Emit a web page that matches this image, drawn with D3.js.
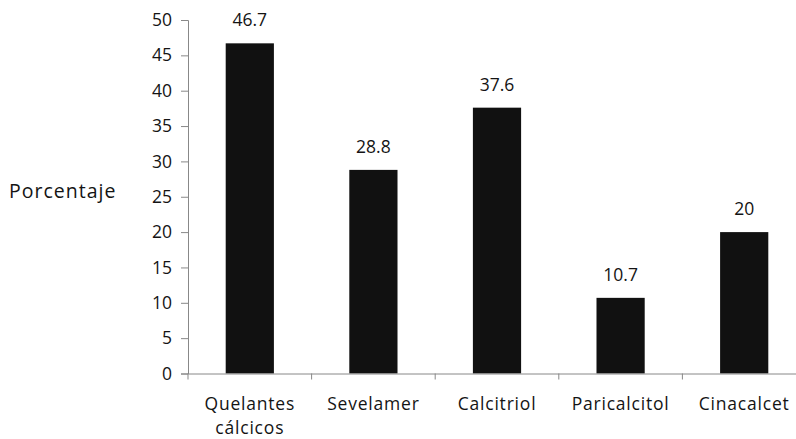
<!DOCTYPE html>
<html><head><meta charset="utf-8">
<script src="https://cdn.jsdelivr.net/npm/d3@7"></script>
<style>body{margin:0;background:#fff}svg{display:block}</style>
</head><body>
<svg id="c" width="796" height="439"></svg>
<script>
const categories = [["Quelantes","cálcicos"],["Sevelamer"],["Calcitriol"],["Paricalcitol"],["Cinacalcet"]];
const values = [46.7, 28.8, 37.6, 10.7, 20];
const valueLabels = ["46.7","28.8","37.6","10.7","20"];
const yTicks = [0,5,10,15,20,25,30,35,40,45,50];
const yTitle = "Porcentaje";

const svg = d3.select("#c");
const font = "'Open Sans', sans-serif";
const x0 = 188, x1 = 806, yTop = 20, yBot = 373.5;
const keys = categories.map((d,i)=>i);
const x = d3.scaleBand().domain(keys).range([x0,x1]).padding(0);
const y = d3.scaleLinear().domain([0,50]).range([yBot,yTop]);
const axisColor = "#888";
const textColor = "#141414";

// y axis
const ya = svg.append("g").attr("transform",`translate(${x0},0)`)
  .call(d3.axisLeft(y).tickValues(yTicks).tickSize(7).tickPadding(9));
ya.select(".domain").attr("stroke",axisColor);
ya.selectAll(".tick line").attr("stroke",axisColor);
ya.selectAll(".tick text").attr("font-family",font).attr("font-size",17.5).attr("fill",textColor);

// bars
const bw = x.bandwidth()*0.39;
svg.selectAll("rect.bar").data(values).enter().append("rect")
  .attr("class","bar")
  .attr("x",(d,i)=>x(i)+x.bandwidth()/2-bw/2)
  .attr("width",bw)
  .attr("y",d=>y(d))
  .attr("height",d=>y(0)-y(d))
  .attr("fill","#111");

// x axis
const xa = svg.append("g").attr("transform",`translate(0,${yBot})`)
  .call(d3.axisBottom(x).tickSize(0).tickFormat(""));
xa.select(".domain").attr("stroke",axisColor);
xa.selectAll(".tick").remove();
const bounds = keys.map(i=>x(i)).concat([x1]);
svg.selectAll("line.bt").data(bounds).enter().append("line")
  .attr("x1",d=>d).attr("x2",d=>d).attr("y1",yBot).attr("y2",yBot+6)
  .attr("stroke",axisColor);

// category labels (one text per line)
const lines = [];
categories.forEach((c,i)=>c.forEach((s,j)=>lines.push({i,j,s})));
svg.selectAll("text.cat").data(lines).enter().append("text")
  .attr("class","cat")
  .attr("x",d=>x(d.i)+x.bandwidth()/2)
  .attr("y",d=>410+d.j*24)
  .attr("text-anchor","middle")
  .attr("font-family",font).attr("font-size",17.5).attr("letter-spacing",0.8)
  .attr("fill",textColor)
  .text(d=>d.s);

// value labels
svg.selectAll("text.val").data(values).enter().append("text")
  .attr("x",(d,i)=>x(i)+x.bandwidth()/2)
  .attr("y",d=>y(d)-17)
  .attr("text-anchor","middle")
  .attr("font-family",font).attr("font-size",17.5).attr("fill",textColor)
  .text((d,i)=>valueLabels[i]);

// y title
svg.append("text").attr("x",9).attr("y",198)
  .attr("font-family",font).attr("font-size",19.5).attr("letter-spacing",1)
  .attr("fill",textColor)
  .text(yTitle);
</script>
</body></html>
